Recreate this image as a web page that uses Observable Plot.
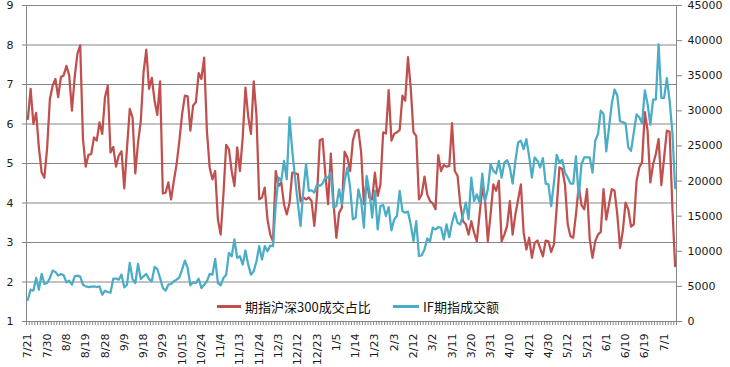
<!DOCTYPE html>
<html>
<head>
<meta charset="utf-8">
<script src="https://cdn.jsdelivr.net/npm/d3@7"></script>
<script src="https://cdn.jsdelivr.net/npm/@observablehq/plot@0.6"></script>
<style>
  html, body { margin: 0; padding: 0; background: #fff; }
  #wrap { position: relative; width: 730px; height: 367px; }
  .lg { position: absolute; top: 297px; height: 18px; display: flex; align-items: center;
        font: 13px "Noto Sans CJK SC", "DejaVu Sans", sans-serif; color: #111; white-space: nowrap; }
  .sw { display: inline-block; height: 3px; margin-right: 4px; }
</style>
</head>
<body>
<div id="wrap"></div>
<script>
// 期指沪深300成交占比 (left axis)
const ratio = [
  6.13,6.89,6.0,6.28,5.4,4.77,4.64,5.4,6.64,6.97,
  7.14,6.68,7.19,7.23,7.47,7.23,6.34,7.19,7.78,7.99,
  5.62,4.92,5.22,5.24,5.66,5.58,6.04,5.75,6.68,6.97,
  5.28,5.42,4.92,5.2,5.31,4.37,5.4,6.38,6.17,4.75,
  5.53,6.08,7.31,7.88,6.89,7.17,6.59,6.23,7.08,4.24,
  4.26,4.52,4.09,4.56,4.98,5.58,6.25,6.72,6.7,5.83,
  6.47,6.55,7.29,7.14,7.68,5.83,4.9,4.6,4.81,3.58,
  3.2,4.22,5.47,5.36,4.81,4.43,5.41,4.81,5.66,6.92,
  6.19,5.75,7.08,6.21,4.09,4.14,4.39,3.58,3.2,3.03,
  4.81,4.43,4.52,3.97,3.71,4.0,4.77,4.75,4.73,4.05,
  4.14,4.09,4.14,4.05,3.42,4.22,5.59,5.62,4.73,3.97,
  5.25,3.97,3.12,3.75,3.88,5.3,5.15,4.81,5.58,5.83,
  5.85,5.28,3.97,4.6,4.14,4.09,4.77,4.18,4.47,5.79,
  5.76,6.86,5.58,5.75,5.79,5.85,6.72,6.59,7.69,6.92,
  5.79,5.7,4.09,4.22,4.67,4.22,4.05,3.99,3.84,5.21,
  4.81,4.96,4.92,4.94,6.02,4.81,4.69,3.97,3.54,3.46,
  3.2,3.54,3.25,3.03,3.71,4.39,4.05,3.03,3.71,4.47,
  4.31,4.56,3.03,3.2,3.42,4.05,3.2,3.71,4.09,4.47,
  3.25,2.82,3.12,2.61,2.99,3.05,2.86,2.65,3.05,3.03,
  2.76,2.95,3.88,4.9,4.86,4.47,3.46,3.16,3.12,3.71,
  4.43,3.95,3.84,4.35,3.08,2.61,3.03,3.2,3.27,4.35,
  3.58,3.97,4.35,4.31,3.71,2.86,3.29,4.01,3.84,3.4,
  3.46,4.56,4.9,5.03,6.3,5.83,4.52,4.98,5.24,5.62,
  4.45,5.15,5.83,5.81,3.88,2.4
];
// IF期指成交额 (right axis)
const volume = [
  3100,4530,4390,6200,4530,6770,5340,5480,6200,7250,
  7060,6530,6770,6580,5580,5820,5240,6440,6530,6390,
  5240,5000,4910,4960,5000,4910,5000,3810,4390,4200,
  4100,6100,6100,5960,6670,4860,5240,8340,6050,5480,
  8200,6050,6440,6770,6050,5720,7770,7480,6200,4770,
  4390,5240,5340,5720,5960,6290,7390,8680,7630,5150,
  5580,5480,6100,4770,5240,5720,6770,6670,8910,5480,
  5150,6200,6670,9770,9300,11680,9060,9300,8100,10110,
  8100,6670,7150,8580,10730,8820,10730,10010,10820,10730,
  16680,20500,20020,22880,20260,29080,24310,20500,16920,13590,
  18590,22400,18590,18690,18350,19540,19310,19640,20500,20500,
  21210,16210,16440,18830,16680,20020,21930,19070,14540,14780,
  18830,17160,13350,20740,18590,14780,18590,13110,16440,16590,
  15020,16300,12970,14540,15020,18590,15730,15490,15640,13820,
  11440,14300,9300,9440,10250,11820,11440,13350,13110,13440,
  13350,11680,13820,12010,14060,15490,14060,13820,15250,16920,
  14540,20500,17160,18110,16920,21070,17160,18830,22400,21450,
  21070,22880,20500,22640,22980,21930,19640,22880,25500,25740,
  24550,25980,23500,20500,23360,22880,21930,23260,19640,19540,
  16440,19780,23740,22640,23020,21210,20500,19640,19640,23500,
  17640,22400,23360,23360,23360,21210,25740,26690,30030,29560,
  24220,27650,30990,33040,32180,28510,28370,28220,24790,24310,
  26930,29480,29080,28220,32920,30990,28050,31610,31610,39480,
  31840,31840,34660,31460,26930,18970
];
// category labels (every 7th trading day)
const tickLabels = ["7/21","7/30","8/8","8/19","8/28","9/9","9/18","9/29","10/15","10/24",
  "11/4","11/13","11/24","12/3","12/12","12/23","1/5","1/14","1/23","2/3","2/12","3/2",
  "3/11","3/20","3/31","4/10","4/21","4/30","5/12","5/21","6/1","6/10","6/19","7/1"];
const leftTicks = [1,2,3,4,5,6,7,8,9];
const rightTicks = [0,5000,10000,15000,20000,25000,30000,35000,40000,45000];
const seriesNames = ["期指沪深300成交占比", "IF期指成交额"];
const seriesColors = ["#C0504D", "#4BACC6"];

const VOL_PER_UNIT = 45000 / 8; // right axis 0..45000 maps to left axis 1..9
const N = ratio.length;
const rows = ratio.map((r, i) => ({i, r, v: volume[i]}));
const grid = "#868686";

const chart = Plot.plot({
  width: 730, height: 367,
  marginLeft: 26, marginRight: 54, marginTop: 5, marginBottom: 46,
  x: {type: "linear", domain: [-0.5, N - 0.5]},
  y: {domain: [1, 9]},
  style: {fontFamily: "DejaVu Sans, sans-serif", fontSize: "11px", color: "#1a1a1a", background: "#fff"},
  marks: [
    Plot.ruleY(leftTicks, {stroke: grid, strokeWidth: 1}),
    Plot.ruleX([-0.5, N - 0.5], {stroke: grid, strokeWidth: 1}),
    Plot.axisY(leftTicks, {anchor: "left", tickSize: 4, tickPadding: 9, stroke: grid, label: null}),
    Plot.axisY(rightTicks.map(v => 1 + v / VOL_PER_UNIT), {anchor: "right", tickSize: 5, tickPadding: 6, stroke: grid,
      tickFormat: d => String(Math.round((d - 1) * VOL_PER_UNIT)), label: null}),
    Plot.axisX(d3.range(N + 1).map(k => k - 0.5), {anchor: "bottom", tickSize: 4, tickFormat: () => "", stroke: grid, label: null}),
    Plot.axisX(tickLabels.map((_, k) => k * 7), {anchor: "bottom", tickSize: 0, tickPadding: 12, tickRotate: -90,
      tickFormat: d => tickLabels[Math.round(d / 7)], label: null}),
    Plot.line(rows, {x: "i", y: "r", stroke: seriesColors[0], strokeWidth: 2.25, strokeLinejoin: "round"}),
    Plot.line(rows, {x: "i", y: d => 1 + d.v / VOL_PER_UNIT, stroke: seriesColors[1], strokeWidth: 2.25, strokeLinejoin: "round"})
  ]
});

const wrap = document.getElementById("wrap");
wrap.appendChild(chart);

const legendPos = [{left: 217, sw: 24}, {left: 393, sw: 26}];
seriesNames.forEach((name, k) => {
  const d = document.createElement("div");
  d.className = "lg";
  d.style.left = legendPos[k].left + "px";
  const s = document.createElement("span");
  s.className = "sw";
  s.style.width = legendPos[k].sw + "px";
  s.style.background = seriesColors[k];
  d.appendChild(s);
  d.appendChild(document.createTextNode(name));
  wrap.appendChild(d);
});
</script>
</body>
</html>
